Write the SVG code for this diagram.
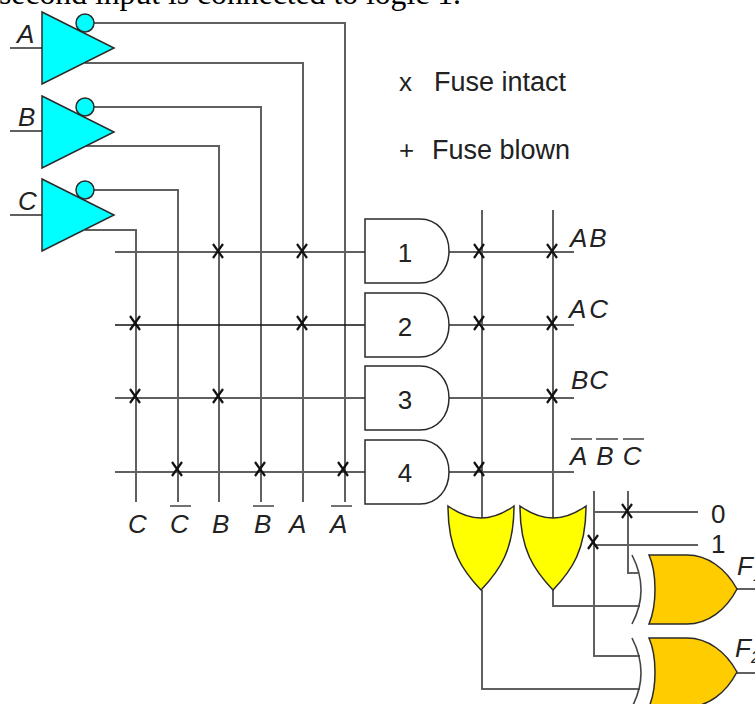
<svg xmlns="http://www.w3.org/2000/svg" width="755" height="704" viewBox="0 0 755 704">
<style>
.w{fill:none;stroke:#606060;stroke-width:2}
.g{stroke:#2a2a2a;stroke-width:1.5}
.t{font-family:"Liberation Sans",Arial,sans-serif;font-size:26px;fill:#222}
.i{font-style:italic}
.o{stroke:#444;stroke-width:1.6;fill:none}
.fx{fill:none;stroke:#111;stroke-width:2.2}
</style>
<defs>
<path id="x" class="fx" d="M-5,-7L5,7M5,-7L-5,7"/>
<g id="inv"><path class="g" fill="#00ffff" d="M42,12L114,48L42,84Z"/><circle class="g" fill="#00ffff" cx="85" cy="23" r="9"/></g>
<path id="and" class="g" fill="#fff" d="M365,0H420C437,0 449,14 449,32C449,50 437,64 420,64H365Z"/>
<path id="xor" class="g" fill="#ffcc00" d="M649,0H687C708,0 726,14 737,34C726,55 708,69 687,69H649C657,50 657,18 649,0Z"/>
<path id="or" class="g" fill="#ffff00" d="M0,0Q17,12 33,12Q49,12 66,0C66,44 52,64 33,84C14,64 0,44 0,0Z"/>
<path id="back" class="o" d="M632,0Q650,35 632,69"/>
</defs>
<text id="caption" x="-1" y="4" font-family="Liberation Serif,Times New Roman,serif" font-size="31.7" fill="#000">second input is connected to logic 1.</text>
<g id="connectors">
<path class="w" d="M10,48H42M10,131H42M10,215H42"/>
<path class="w" d="M94,23H345V502M85,63H303V502M94,107H261V502M85,146H219V502M94,190H178V502M85,230H136V502"/>
<path class="w" d="M115,252H365M115,398H365M115,472H365"/>
<path d="M115,325H365" fill="none" stroke="#111" stroke-width="1.5"/>
<path class="w" d="M449,252H574M449,325H574M449,398H574M449,472H574"/>
<path class="w" d="M482,210V518M553,210V518"/>
<path class="w" d="M482,590V689H640M553,590V606H640"/>
<path class="w" d="M594,491V656H640M628,491V573H638M594,512H698M594,545H698"/>
<path class="w" d="M737,589H755M737,673H755"/>
</g>
<g id="fuses">
<use href="#x" x="218" y="251"/><use href="#x" x="302" y="251"/>
<use href="#x" x="135" y="323"/><use href="#x" x="302" y="323"/>
<use href="#x" x="135" y="396"/><use href="#x" x="218" y="396"/>
<use href="#x" x="177" y="469"/><use href="#x" x="260" y="469"/><use href="#x" x="343" y="469"/>
<use href="#x" x="479" y="251"/><use href="#x" x="552" y="251"/>
<use href="#x" x="479" y="323"/><use href="#x" x="552" y="323"/>
<use href="#x" x="552" y="396"/><use href="#x" x="479" y="469"/>
<use href="#x" x="627" y="511"/><use href="#x" x="593" y="542"/>
</g>
<g id="inv-a"><use href="#inv"/><text class="t i" x="17" y="43">A</text></g>
<g id="inv-b"><use href="#inv" y="84"/><text class="t i" x="18" y="126">B</text></g>
<g id="inv-c"><use href="#inv" y="167"/><text class="t i" x="18" y="210">C</text></g>
<g id="and-1"><use href="#and" y="219"/><text class="t" x="405" y="262" text-anchor="middle">1</text></g>
<g id="and-2"><use href="#and" y="293"/><text class="t" x="405" y="336" text-anchor="middle">2</text></g>
<g id="and-3"><use href="#and" y="366"/><text class="t" x="405" y="409" text-anchor="middle">3</text></g>
<g id="and-4"><use href="#and" y="440"/><text class="t" x="405" y="482" text-anchor="middle">4</text></g>
<g id="or-1"><use href="#or" x="448" y="506"/></g>
<g id="or-2"><use href="#or" x="520" y="506"/></g>
<g id="xor-1"><use href="#back" y="555"/><use href="#xor" y="555"/><text class="t i" x="737" y="575">F<tspan style="font-size:16px" dy="6">1</tspan></text></g>
<g id="xor-2"><use href="#back" y="638"/><use href="#xor" y="638"/><text class="t i" x="735" y="657">F<tspan style="font-size:16px" dy="6">2</tspan></text></g>
<g id="column-labels">
<text class="t i" x="128" y="533">C</text>
<text class="t i" x="170" y="533">C</text>
<text class="t i" x="212" y="533">B</text>
<text class="t i" x="254" y="533">B</text>
<text class="t i" x="289" y="533">A</text>
<text class="t i" x="330" y="533">A</text>
<path class="o" d="M170,506H191M253,506H274M331,506H352"/>
</g>
<g id="term-labels">
<text class="t i" x="570" y="247" letter-spacing="2">AB</text>
<text class="t i" x="569" y="318" letter-spacing="3">AC</text>
<text class="t i" x="571" y="389" letter-spacing="1">BC</text>
<text class="t i" x="570" y="465" letter-spacing="9">ABC</text>
<path class="o" d="M571,439H592M596,439H618M623,439H644"/>
</g>
<g id="legend">
<text class="t" x="399" y="91">x</text>
<text class="t" x="434" y="91" style="font-size:27px">Fuse intact</text>
<text class="t" x="399" y="159">+</text>
<text class="t" x="432" y="159" style="font-size:27px">Fuse blown</text>
</g>
<g id="input-labels">
<text class="t" x="711" y="523">0</text>
<text class="t" x="711" y="553">1</text>
</g>
</svg>
